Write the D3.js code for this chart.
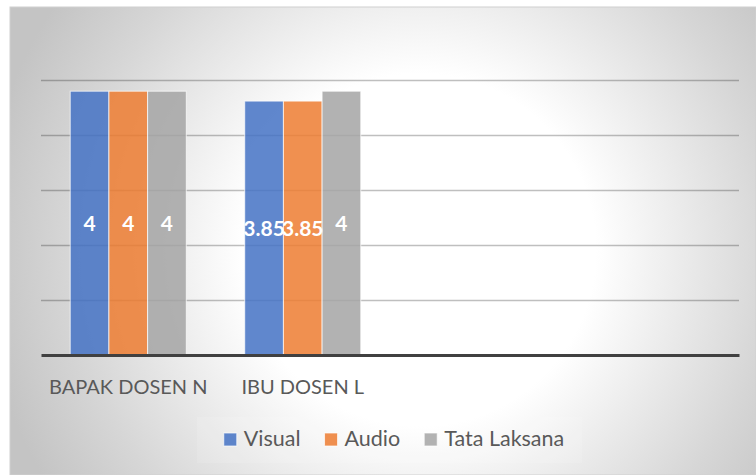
<!DOCTYPE html>
<html>
<head>
	<meta charset="UTF-8">
	<title>Visual / Audio / Tata Laksana</title>
	<script src="https://d3js.org/d3.v7.min.js"></script>
	<style>
		body { margin: 0; background: #fff; }
		text { font-family: Lato, "Open Sans", sans-serif; }
		.cat-label { fill: #595959; font-size: 20px; }
		.legend-label { fill: #595959; font-size: 21.5px; }
		.value-label { fill: #fff; font-size: 21px; font-weight: bold; }
		.grid line { stroke: #000; stroke-opacity: 0.25; stroke-width: 1.5px; }
	</style>
</head>
<body>
	<script>
		// chart data
		var categories = ["BAPAK DOSEN N", "IBU DOSEN L", "", ""];
		var series = ["Visual", "Audio", "Tata Laksana"];
		var colors = ["#4472C4", "#ED7D31", "#A5A5A5"];
		var visual = [4, 3.85];
		var audio = [4, 3.85];
		var tataLaksana = [4, 4];
		var yMax = 4.17;

		var values = [visual, audio, tataLaksana];

		var width = 756, height = 475;
		var plot = {left: 41, right: 739, top: 80, bottom: 355};

		var svg = d3.select("body").append("svg")
			.attr("width", width)
			.attr("height", height);

		// background with radial gradient
		var defs = svg.append("defs");
		var grad = defs.append("radialGradient")
			.attr("id", "bg")
			.attr("gradientUnits", "userSpaceOnUse")
			.attr("cx", 420).attr("cy", 250).attr("r", 440);
		grad.append("stop").attr("offset", "0%").attr("stop-color", "#ffffff");
		grad.append("stop").attr("offset", "40%").attr("stop-color", "#ffffff");
		grad.append("stop").attr("offset", "80%").attr("stop-color", "#d6d6d6");
		grad.append("stop").attr("offset", "100%").attr("stop-color", "#c4c4c4");

		svg.append("rect")
			.attr("x", 10).attr("y", 7)
			.attr("width", width - 10).attr("height", height - 7)
			.attr("fill", "url(#bg)")
			.attr("stroke", "#d0d0d0");

		var x0 = d3.scaleBand()
			.domain(d3.range(categories.length))
			.range([plot.left, plot.right])
			.paddingInner(0.335)
			.paddingOuter(0.1675);

		var x1 = d3.scaleBand()
			.domain(d3.range(series.length))
			.range([0, x0.bandwidth()]);

		var y = d3.scaleLinear()
			.domain([0, yMax])
			.range([plot.bottom, plot.top]);

		// gridlines
		var yAxis = d3.axisLeft(y)
			.tickValues(d3.range(1, 6).map(function(i) { return i * yMax / 5; }))
			.tickSize(-(plot.right - plot.left))
			.tickFormat("");
		var grid = svg.append("g")
			.attr("class", "grid")
			.attr("transform", "translate(" + plot.left + ",0)")
			.call(yAxis);
		grid.select(".domain").remove();

		// bars
		var bars = [];
		series.forEach(function(s, si) {
			values[si].forEach(function(v, ci) {
				bars.push({s: si, c: ci, v: v});
			});
		});

		svg.selectAll(".bar")
			.data(bars)
			.enter().append("rect")
			.attr("class", "bar")
			.attr("x", function(d) { return x0(d.c) + x1(d.s); })
			.attr("y", function(d) { return y(d.v); })
			.attr("width", x1.bandwidth())
			.attr("height", function(d) { return y(0) - y(d.v); })
			.attr("fill", function(d) { return colors[d.s]; })
			.attr("fill-opacity", 0.85)
			.attr("stroke", "#fff")
			.attr("stroke-opacity", 0.7)
			.attr("stroke-width", 1);

		svg.selectAll(".value-label")
			.data(bars)
			.enter().append("text")
			.attr("class", "value-label")
			.attr("x", function(d) { return x0(d.c) + x1(d.s) + x1.bandwidth() / 2; })
			.attr("y", function(d) { return (y(d.v) + y(0)) / 2; })
			.attr("dy", "0.36em")
			.attr("text-anchor", "middle")
			.text(function(d) { return d.v; });

		// baseline
		var xAxis = d3.axisBottom(x0).tickSize(0).tickFormat("");
		svg.append("g")
			.attr("transform", "translate(0," + plot.bottom + ")")
			.call(xAxis)
			.select(".domain")
			.attr("stroke", "#404040")
			.attr("stroke-width", 3);

		svg.selectAll(".cat-label")
			.data(categories)
			.enter().append("text")
			.attr("class", "cat-label")
			.attr("x", function(d, i) { return x0(i) + x0.bandwidth() / 2; })
			.attr("y", 394)
			.attr("text-anchor", "middle")
			.text(function(d) { return d; });

		// legend
		svg.append("rect")
			.attr("x", 197).attr("y", 417)
			.attr("width", 385).attr("height", 46)
			.attr("fill", "#fff").attr("fill-opacity", 0.12);

		var legend = svg.append("g");
		var lx = 0;
		series.forEach(function(s, i) {
			var g = legend.append("g").attr("transform", "translate(" + lx + ",0)");
			g.append("rect")
				.attr("x", 0).attr("y", -13)
				.attr("width", 13).attr("height", 13)
				.attr("fill", colors[i])
				.attr("fill-opacity", 0.85)
				.attr("stroke", "#fff")
				.attr("stroke-opacity", 0.7);
			var t = g.append("text")
				.attr("class", "legend-label")
				.attr("x", 20).attr("y", 0)
				.text(s);
			lx += 20 + t.node().getComputedTextLength() + 24;
		});
		var lw = lx - 24;
		legend.attr("transform", "translate(" + (394 - lw / 2) + ",446)");
	</script>
</body>
</html>
